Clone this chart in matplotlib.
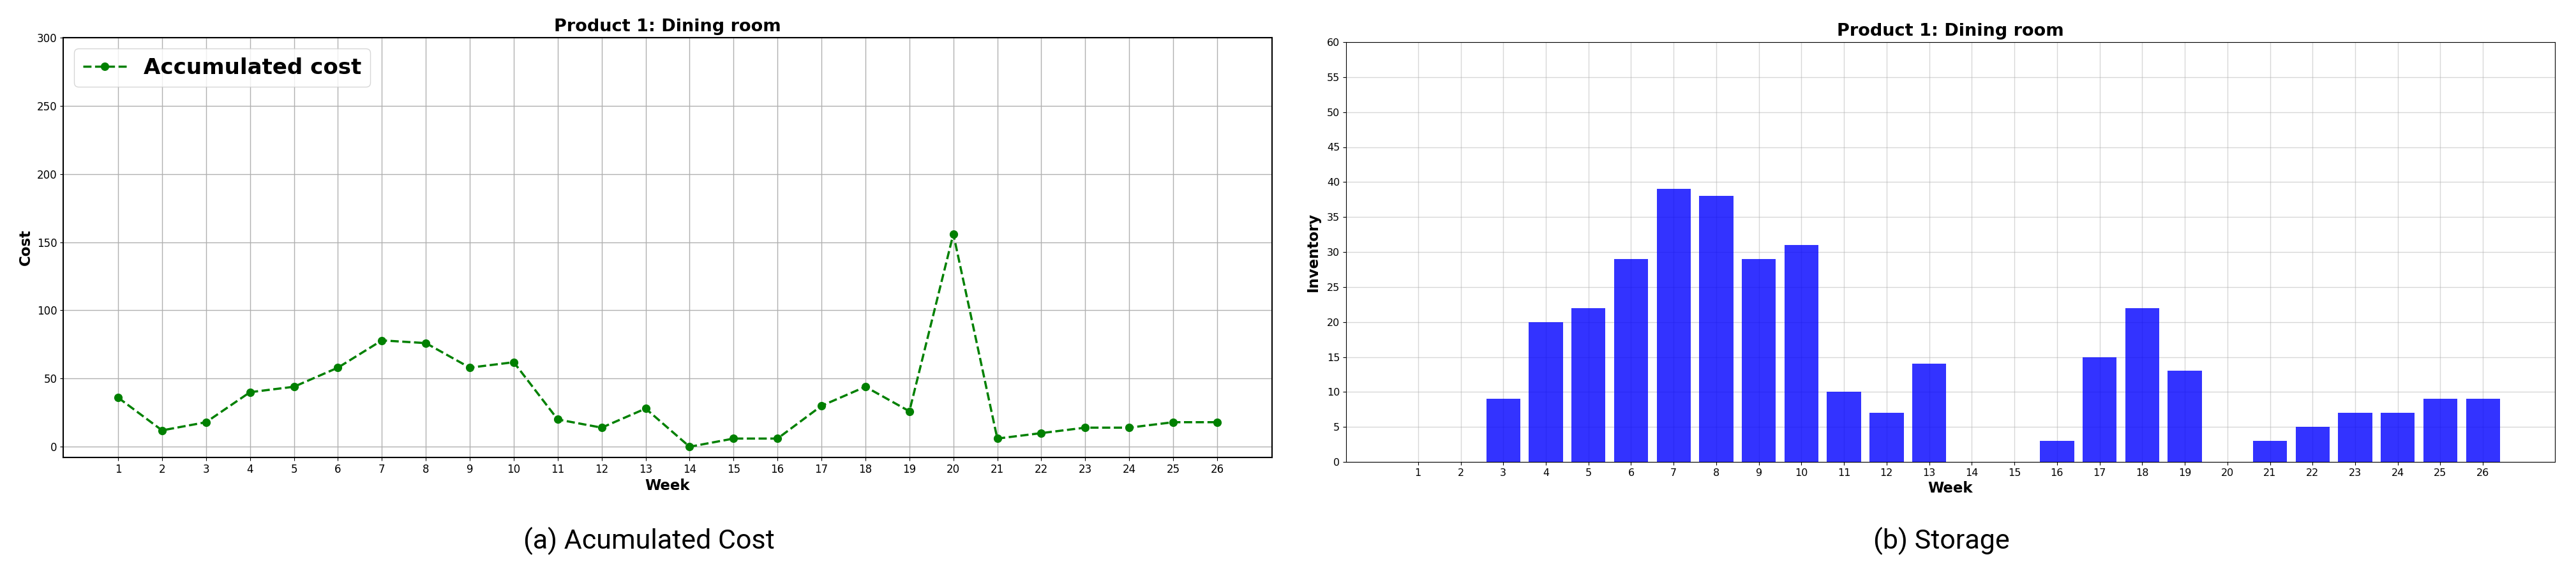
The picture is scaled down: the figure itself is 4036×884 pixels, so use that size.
import matplotlib
matplotlib.use("Agg")
import matplotlib.pyplot as plt
import numpy as np

weeks = list(range(1, 27))
accumulated_cost = [36, 12, 18, 40, 44, 58, 78, 76, 58, 62, 20, 14, 28,
                    0, 6, 6, 30, 44, 26, 156, 6, 10, 14, 14, 18, 18]
inventory = [0, 0, 9, 20, 22, 29, 39, 38, 29, 31, 10, 7, 14,
             0, 0, 3, 15, 22, 13, 0, 3, 5, 7, 7, 9, 9]

title = "Product 1: Dining room"
caption_a = "(a) Acumulated Cost"
caption_b = "(b) Storage"

W, H = 4037, 884
fig = plt.figure(figsize=(W / 100, H / 100), dpi=100)

# ---- left: accumulated cost ----
ax1 = fig.add_axes([99 / W, 1 - 717 / H, 1894 / W, 658 / H])
ax1.plot(weeks, accumulated_cost, color="green", linestyle="--", marker="o",
         linewidth=2.5, markersize=8.5, label="Accumulated cost")
ax1.set_xticks(weeks)
ax1.set_yticks(np.arange(0, 301, 50))
ax1.set_ylim(-7.85, 300)
ax1.tick_params(labelsize=12)
ax1.grid(True, color="#b0b0b0", linewidth=1.0)
for s in ax1.spines.values():
    s.set_linewidth(1.5)
ax1.set_title(title, fontsize=19.5, fontweight="bold", pad=7)
ax1.set_xlabel("Week", fontsize=16.5, fontweight="bold")
ax1.set_ylabel("Cost", fontsize=16.5, fontweight="bold")
ax1.legend(loc="upper left", prop={"size": 24.5, "weight": "bold"})

# ---- right: storage ----
ax2 = fig.add_axes([2109 / W, 1 - 724 / H, 1894 / W, 658 / H])
ax2.bar(weeks, inventory, color="blue", alpha=0.8, width=0.8)
ax2.set_axisbelow(True)
ax2.set_xticks(weeks)
ax2.set_yticks(np.arange(0, 61, 5))
ax2.set_ylim(0, 60)
ax2.tick_params(labelsize=11.5)
ax2.grid(True, color="#b0b0b0", alpha=0.5, linewidth=1.0)
ax2.set_title(title, fontsize=19.5, fontweight="bold", pad=7)
ax2.set_xlabel("Week", fontsize=16.5, fontweight="bold")
ax2.set_ylabel("Inventory", fontsize=16.5, fontweight="bold", labelpad=7)

# ---- captions ----
fig.text(1017 / W, 1 - 860 / H, caption_a, ha="center", va="baseline",
         fontsize=31, family="Roboto")
fig.text(3042 / W, 1 - 860 / H, caption_b, ha="center", va="baseline",
         fontsize=31, family="Roboto")

fig.savefig("out.png", dpi=100)
